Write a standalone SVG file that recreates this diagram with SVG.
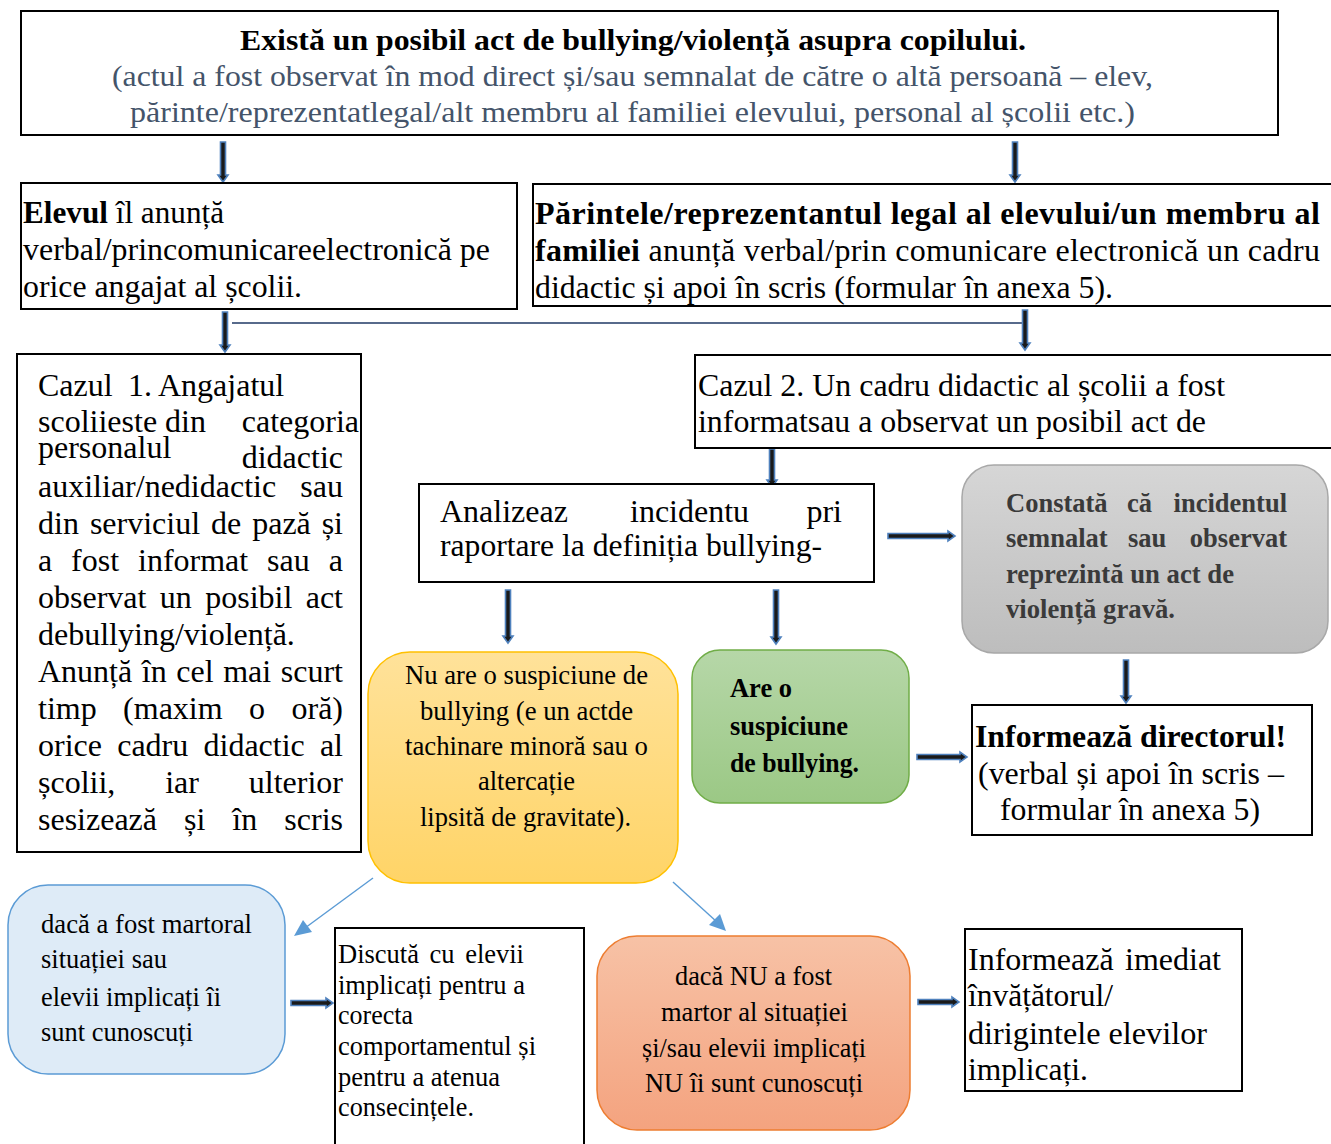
<svg xmlns="http://www.w3.org/2000/svg" width="1331" height="1144" viewBox="0 0 1331 1144">
<defs>
<style>
text{font-family:"Liberation Serif","Times New Roman",serif;fill:#000}
.t32{font-size:32px}
.t30{font-size:30px}
.t26{font-size:26.5px}
.b{font-weight:bold}
.e{text-anchor:end}
.box{fill:#fff;stroke:#000;stroke-width:2}
.blk{fill:#1a1a1a;stroke:#4F81BD;stroke-width:1.6;stroke-linejoin:miter}
.thin{stroke:#5B9BD5;stroke-width:1.4;fill:none}
.tri{fill:#5B9BD5}
.sub{fill:#44546A}
.gray{fill:#3a3a3a}
</style>
<linearGradient id="gGray" x1="0" y1="0" x2="0" y2="1"><stop offset="0" stop-color="#D6D6D6"/><stop offset="1" stop-color="#BDBDBD"/></linearGradient>
<linearGradient id="gYel" x1="0" y1="0" x2="0" y2="1"><stop offset="0" stop-color="#FFE29A"/><stop offset="1" stop-color="#FFD467"/></linearGradient>
<linearGradient id="gGrn" x1="0" y1="0" x2="0" y2="1"><stop offset="0" stop-color="#B6D7A8"/><stop offset="1" stop-color="#9BC885"/></linearGradient>
<linearGradient id="gOra" x1="0" y1="0" x2="0" y2="1"><stop offset="0" stop-color="#F7C2A6"/><stop offset="1" stop-color="#F4A37F"/></linearGradient>
</defs>
<rect width="1331" height="1144" fill="#fff"/>

<g id="connectors">
<line x1="232" y1="323" x2="1023" y2="323" stroke="#1F3864" stroke-width="1.5"/>
<polygon class="blk" points="220.5,142 225.5,142 225.5,175 228,175 223,182 218,175 220.5,175"/>
<polygon class="blk" points="1012.5,142 1017.5,142 1017.5,175 1020,175 1015,182 1010,175 1012.5,175"/>
<polygon class="blk" points="222.5,312 227.5,312 227.5,345 230,345 225,352 220,345 222.5,345"/>
<polygon class="blk" points="1022.5,310 1027.5,310 1027.5,343 1030,343 1025,350 1020,343 1022.5,343"/>
<polygon class="blk" points="769.5,449 774.5,449 774.5,480 777,480 772,487 767,480 769.5,480"/>
<polygon class="blk" points="505.5,590 510.5,590 510.5,636 513,636 508,643 503,636 505.5,636"/>
<polygon class="blk" points="773.5,590 778.5,590 778.5,637 781,637 776,644 771,637 773.5,637"/>
<polygon class="blk" points="1123.5,660 1128.5,660 1128.5,696 1131,696 1126,703 1121,696 1123.5,696"/>
<polygon class="blk" points="888,533.5 888,538.5 948,538.5 948,541 955,536 948,531 948,533.5"/>
<polygon class="blk" points="297,614.5 297,619.5 333,619.5 333,622 340,617 333,612 333,614.5"/>
<polygon class="blk" points="917,754.5 917,759.5 960,759.5 960,762 967,757 960,752 960,754.5"/>
<polygon class="blk" points="291,1000.5 291,1005.5 326,1005.5 326,1008 333,1003 326,998 326,1000.5"/>
<polygon class="blk" points="918,999.5 918,1004.5 952,1004.5 952,1007 959,1002 952,997 952,999.5"/>
<line class="thin" x1="373" y1="878" x2="305" y2="928"/>
<polygon class="tri" points="294,936 303,920 312,932"/>
<line class="thin" x1="673" y1="882" x2="717" y2="922"/>
<polygon class="tri" points="726,931 709,925 720,914"/>
</g>

<g id="n-top">
<rect class="box" x="21" y="11" width="1257" height="124"/>
<text class="t30 b" x="633" y="50" text-anchor="middle" textLength="786" lengthAdjust="spacingAndGlyphs">Există un posibil act de bullying/violență asupra copilului.</text>
<text class="t30 sub" x="632.5" y="86" text-anchor="middle" textLength="1041" lengthAdjust="spacingAndGlyphs">(actul a fost observat în mod direct și/sau semnalat de către o altă persoană – elev,</text>
<text class="t30 sub" x="632.5" y="122" text-anchor="middle" textLength="1005" lengthAdjust="spacingAndGlyphs">părinte/reprezentatlegal/alt membru al familiei elevului, personal al școlii etc.)</text>
</g>

<g id="n-elevul">
<rect class="box" x="21" y="183" width="496" height="126"/>
<text class="t32" x="23" y="223" textLength="201" lengthAdjust="spacingAndGlyphs"><tspan class="b">Elevul</tspan> îl anunță</text>
<text class="t32" x="23" y="260" textLength="467" lengthAdjust="spacingAndGlyphs">verbal/princomunicareelectronică pe</text>
<text class="t32" x="23" y="297" textLength="279" lengthAdjust="spacingAndGlyphs">orice angajat al școlii.</text>
</g>

<g id="n-parinte">
<rect class="box" x="533" y="184" width="810" height="122"/>
<text class="t32 b" x="535" y="224" textLength="785" lengthAdjust="spacing">Părintele/reprezentantul legal al elevului/un membru al</text>
<text class="t32" x="535" y="261" textLength="785" lengthAdjust="spacing"><tspan class="b">familiei</tspan> anunță verbal/prin comunicare electronică un cadru</text>
<text class="t32" x="535" y="298" textLength="578" lengthAdjust="spacingAndGlyphs">didactic și apoi în scris (formular în anexa 5).</text>
</g>

<g id="n-cazul1">
<rect class="box" x="17" y="354" width="344" height="498"/>
<text class="t32" y="396"><tspan x="38">Cazul</tspan><tspan x="128">1.</tspan><tspan x="158">Angajatul</tspan></text>
<text class="t32" y="432"><tspan x="38">scoliieste din</tspan><tspan x="359" class="e">categoria</tspan></text>
<text class="t32" x="38" y="458">personalul</text>
<text class="t32 e" x="343" y="468">didactic</text>
<text class="t32" y="497"><tspan x="38">auxiliar/nedidactic</tspan><tspan x="343" class="e">sau</tspan></text>
<text class="t32" y="534"><tspan x="38">din</tspan><tspan x="89.9">serviciul</tspan><tspan x="211">de</tspan><tspan x="252.2">pază</tspan><tspan x="343" class="e">și</tspan></text>
<text class="t32" y="571"><tspan x="38">a</tspan><tspan x="71.1">fost</tspan><tspan x="138">informat</tspan><tspan x="267.1">sau</tspan><tspan x="343" class="e">a</tspan></text>
<text class="t32" y="608"><tspan x="38">observat</tspan><tspan x="159.8">un</tspan><tspan x="205.2">posibil</tspan><tspan x="343" class="e">act</tspan></text>
<text class="t32" x="38" y="645">debullying/violență.</text>
<text class="t32" y="682"><tspan x="38">Anunță</tspan><tspan x="141.8">în</tspan><tspan x="176.3">cel</tspan><tspan x="223.2">mai</tspan><tspan x="343" class="e">scurt</tspan></text>
<text class="t32" y="719"><tspan x="38">timp</tspan><tspan x="123.1">(maxim</tspan><tspan x="249.1">o</tspan><tspan x="343" class="e">oră)</tspan></text>
<text class="t32" y="756"><tspan x="38">orice</tspan><tspan x="117.2">cadru</tspan><tspan x="203.5">didactic</tspan><tspan x="343" class="e">al</tspan></text>
<text class="t32" y="793"><tspan x="38">școlii,</tspan><tspan x="165.2">iar</tspan><tspan x="343" class="e">ulterior</tspan></text>
<text class="t32" y="830"><tspan x="38">sesizează</tspan><tspan x="184">și</tspan><tspan x="232.3">în</tspan><tspan x="343" class="e">scris</tspan></text>
</g>

<g id="n-cazul2">
<rect class="box" x="695" y="355" width="648" height="93"/>
<text class="t32" x="698" y="396" textLength="527" lengthAdjust="spacingAndGlyphs">Cazul 2. Un cadru didactic al școlii a fost</text>
<text class="t32" x="698" y="432" textLength="508" lengthAdjust="spacingAndGlyphs">informatsau a observat un posibil act de</text>
</g>

<g id="n-analiza">
<rect class="box" x="419" y="484" width="455" height="98"/>
<text class="t32" y="522"><tspan x="440">Analizeaz</tspan><tspan x="630">incidentu</tspan><tspan x="842" class="e">pri</tspan></text>
<text class="t32" x="440" y="556" textLength="382" lengthAdjust="spacingAndGlyphs">raportare la definiția bullying-</text>
</g>

<g id="n-grav">
<rect x="962" y="465" width="366" height="188" rx="32" fill="url(#gGray)" stroke="#A8A8A8" stroke-width="1.5"/>
<text class="t26 b gray" y="512"><tspan x="1006">Constată</tspan><tspan x="1127">că</tspan><tspan x="1287" class="e">incidentul</tspan></text>
<text class="t26 b gray" y="547"><tspan x="1006">semnalat</tspan><tspan x="1128">sau</tspan><tspan x="1287" class="e">observat</tspan></text>
<text class="t26 b gray" x="1006" y="583" textLength="228" lengthAdjust="spacingAndGlyphs">reprezintă un act de</text>
<text class="t26 b gray" x="1006" y="618" textLength="169" lengthAdjust="spacingAndGlyphs">violență gravă.</text>
</g>

<g id="n-director">
<rect class="box" x="972" y="705" width="340" height="130"/>
<text class="t32 b" x="975" y="747" textLength="311" lengthAdjust="spacingAndGlyphs">Informează directorul!</text>
<text class="t32" x="978" y="784" textLength="306" lengthAdjust="spacingAndGlyphs">(verbal și apoi în scris –</text>
<text class="t32" x="1000" y="820" textLength="260" lengthAdjust="spacingAndGlyphs">formular în anexa 5)</text>
</g>

<g id="n-nu">
<rect x="368" y="652" width="310" height="231" rx="42" fill="url(#gYel)" stroke="#FFC000" stroke-width="1.5"/>
<text class="t26" x="526.5" y="684" text-anchor="middle" textLength="243" lengthAdjust="spacingAndGlyphs">Nu are o suspiciune de</text>
<text class="t26" x="526.5" y="720" text-anchor="middle" textLength="213" lengthAdjust="spacingAndGlyphs">bullying (e un actde</text>
<text class="t26" x="526.5" y="755" text-anchor="middle" textLength="243" lengthAdjust="spacingAndGlyphs">tachinare minoră sau o</text>
<text class="t26" x="526.5" y="790" text-anchor="middle" textLength="97" lengthAdjust="spacingAndGlyphs">altercație</text>
<text class="t26" x="525.5" y="826" text-anchor="middle" textLength="211" lengthAdjust="spacingAndGlyphs">lipsită de gravitate).</text>
</g>

<g id="n-are">
<rect x="692" y="650" width="217" height="153" rx="28" fill="url(#gGrn)" stroke="#70AD47" stroke-width="1.5"/>
<text class="t26 b" x="730" y="697" textLength="62" lengthAdjust="spacingAndGlyphs">Are o</text>
<text class="t26 b" x="730" y="735" textLength="118" lengthAdjust="spacingAndGlyphs">suspiciune</text>
<text class="t26 b" x="730" y="772" textLength="129" lengthAdjust="spacingAndGlyphs">de bullying.</text>
</g>

<g id="n-martor">
<rect x="8" y="885" width="277" height="189" rx="40" fill="#DEEBF7" stroke="#5B9BD5" stroke-width="1.5"/>
<text class="t26" x="41" y="933" textLength="211" lengthAdjust="spacingAndGlyphs">dacă a fost martoral</text>
<text class="t26" x="41" y="968" textLength="126" lengthAdjust="spacingAndGlyphs">situației sau</text>
<text class="t26" x="41" y="1006" textLength="180" lengthAdjust="spacingAndGlyphs">elevii implicați îi</text>
<text class="t26" x="41" y="1041" textLength="152" lengthAdjust="spacingAndGlyphs">sunt cunoscuți</text>
</g>

<g id="n-discuta">
<rect class="box" x="335" y="928" width="249" height="230"/>
<text class="t26" y="963"><tspan x="338">Discută</tspan><tspan x="429.5">cu</tspan><tspan x="524" class="e">elevii</tspan></text>
<text class="t26" x="338" y="994" textLength="187" lengthAdjust="spacingAndGlyphs">implicați pentru a</text>
<text class="t26" x="338" y="1024" textLength="75" lengthAdjust="spacingAndGlyphs">corecta</text>
<text class="t26" x="338" y="1055" textLength="198" lengthAdjust="spacingAndGlyphs">comportamentul și</text>
<text class="t26" x="338" y="1086" textLength="162" lengthAdjust="spacingAndGlyphs">pentru a atenua</text>
<text class="t26" x="338" y="1116" textLength="136" lengthAdjust="spacingAndGlyphs">consecințele.</text>
</g>

<g id="n-numartor">
<rect x="597" y="936" width="313" height="194" rx="40" fill="url(#gOra)" stroke="#ED7D31" stroke-width="1.5"/>
<text class="t26" x="753.5" y="985" text-anchor="middle" textLength="157" lengthAdjust="spacingAndGlyphs">dacă NU a fost</text>
<text class="t26" x="754.5" y="1021" text-anchor="middle" textLength="187" lengthAdjust="spacingAndGlyphs">martor al situației</text>
<text class="t26" x="754" y="1057" text-anchor="middle" textLength="224" lengthAdjust="spacingAndGlyphs">și/sau elevii implicați</text>
<text class="t26" x="754" y="1092" text-anchor="middle" textLength="218" lengthAdjust="spacingAndGlyphs">NU îi sunt cunoscuți</text>
</g>

<g id="n-invatator">
<rect class="box" x="965" y="929" width="277" height="162"/>
<text class="t32" y="970"><tspan x="968">Informează</tspan><tspan x="1221" class="e">imediat</tspan></text>
<text class="t32" x="968" y="1006" textLength="145" lengthAdjust="spacingAndGlyphs">învățătorul/</text>
<text class="t32" x="968" y="1044" textLength="239" lengthAdjust="spacingAndGlyphs">dirigintele elevilor</text>
<text class="t32" x="968" y="1080" textLength="120" lengthAdjust="spacingAndGlyphs">implicați.</text>
</g>
</svg>
